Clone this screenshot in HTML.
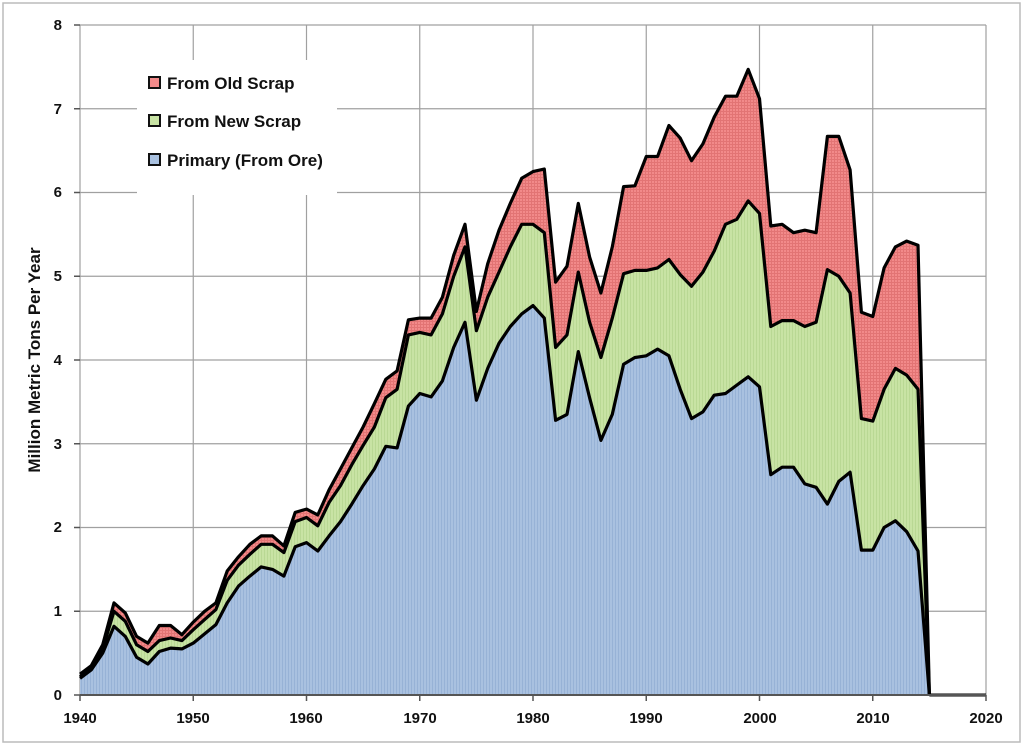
<!DOCTYPE html>
<html><head><meta charset="utf-8"><style>
body{margin:0;background:#fff;}
svg{display:block;font-family:"Liberation Sans",sans-serif;}
</style></head><body>
<svg id="s" width="1024" height="746" viewBox="0 0 1024 746">
<defs>
<pattern id="pb" width="3" height="10" patternUnits="userSpaceOnUse"><rect width="3" height="10" fill="#a9c1e0"/><rect width="1" height="10" fill="#97b2d6"/></pattern>
<pattern id="pg" width="3" height="3" patternUnits="userSpaceOnUse"><rect width="3" height="3" fill="#c8e3a4"/><rect width="1" height="3" fill="#b9d894"/></pattern>
<pattern id="pr" width="3" height="3" patternUnits="userSpaceOnUse"><rect width="3" height="3" fill="#f28a8a"/><rect width="1" height="3" fill="#e27474"/><rect width="3" height="1" fill="#e27474"/></pattern>
</defs>
<rect x="3" y="3" width="1017" height="739" fill="#fff" stroke="#bbb" stroke-width="1.5"/>
<g id="grid" stroke="#a0a0a0" stroke-width="1.2"></g>
<g id="areas"></g>
<line x1="80" y1="695" x2="986" y2="695" stroke="#555" stroke-width="2"/>
<g id="ticks" stroke="#555" stroke-width="1.5"></g>
<g font-size="15" font-weight="bold" fill="#111" text-anchor="end">
<text x="62" y="700">0</text><text x="62" y="616">1</text><text x="62" y="532">2</text><text x="62" y="449">3</text><text x="62" y="365">4</text><text x="62" y="281">5</text><text x="62" y="197">6</text><text x="62" y="114">7</text><text x="62" y="30">8</text>
</g>
<g font-size="15" font-weight="bold" fill="#111" text-anchor="middle">
<text x="80" y="723">1940</text><text x="193" y="723">1950</text><text x="306" y="723">1960</text><text x="420" y="723">1970</text><text x="533" y="723">1980</text><text x="646" y="723">1990</text><text x="760" y="723">2000</text><text x="873" y="723">2010</text><text x="986" y="723">2020</text>
</g>
<text transform="translate(40,360) rotate(-90)" font-size="17" font-weight="bold" fill="#111" text-anchor="middle">Million Metric Tons Per Year</text>
<rect x="137" y="60" width="200" height="135" fill="#fff"/>
<g font-size="17" font-weight="bold" fill="#111">
<rect x="149" y="77" width="11" height="11" fill="#f28a8a" stroke="#111" stroke-width="2"/><text x="167" y="89">From Old Scrap</text>
<rect x="149" y="115" width="11" height="11" fill="#c8e3a4" stroke="#111" stroke-width="2"/><text x="167" y="127">From New Scrap</text>
<rect x="149" y="154" width="11" height="11" fill="#a9c1e0" stroke="#111" stroke-width="2"/><text x="167" y="166">Primary (From Ore)</text>
</g>
</svg>
<script>
var P=[0.2,0.3,0.5,0.82,0.7,0.45,0.37,0.52,0.56,0.55,0.62,0.73,0.84,1.1,1.3,1.42,1.53,1.5,1.42,1.77,1.82,1.72,1.9,2.07,2.28,2.5,2.7,2.97,2.95,3.45,3.6,3.56,3.75,4.15,4.45,3.52,3.9,4.2,4.4,4.55,4.65,4.5,3.28,3.35,4.1,3.55,3.04,3.35,3.95,4.03,4.05,4.13,4.05,3.65,3.3,3.38,3.58,3.6,3.7,3.8,3.68,2.63,2.72,2.72,2.52,2.48,2.28,2.55,2.66,1.73,1.73,2.0,2.08,1.95,1.72,0];
var G=[0.22,0.32,0.55,1.0,0.88,0.6,0.52,0.65,0.68,0.65,0.78,0.9,1.02,1.37,1.55,1.68,1.8,1.8,1.7,2.07,2.12,2.02,2.3,2.5,2.75,2.98,3.2,3.55,3.65,4.3,4.33,4.3,4.55,5.0,5.35,4.35,4.75,5.05,5.35,5.62,5.62,5.52,4.15,4.3,5.05,4.45,4.03,4.5,5.03,5.07,5.07,5.1,5.2,5.02,4.88,5.05,5.3,5.62,5.68,5.9,5.75,4.4,4.47,4.47,4.4,4.45,5.08,5.0,4.8,3.3,3.27,3.65,3.9,3.82,3.65,0];
var T=[0.25,0.35,0.6,1.1,0.98,0.7,0.62,0.83,0.83,0.72,0.87,1.0,1.1,1.48,1.65,1.8,1.9,1.9,1.78,2.18,2.22,2.15,2.45,2.7,2.95,3.2,3.48,3.77,3.87,4.48,4.5,4.5,4.75,5.25,5.62,4.58,5.15,5.55,5.87,6.17,6.25,6.28,4.93,5.12,5.87,5.23,4.8,5.35,6.07,6.08,6.43,6.43,6.8,6.65,6.38,6.58,6.9,7.15,7.15,7.47,7.12,5.6,5.62,5.52,5.55,5.52,6.67,6.67,6.27,4.57,4.52,5.1,5.35,5.42,5.37,0];
function X(i){return 80+i*11.325}function Y(v){return 695-v*83.75}
var ns="http://www.w3.org/2000/svg";
function el(p,t,a){var e=document.createElementNS(ns,t);for(var k in a)e.setAttribute(k,a[k]);p.appendChild(e);return e}
var g=document.getElementById('grid');
for(var v=1;v<=8;v++)el(g,'line',{x1:80,x2:986,y1:Y(v),y2:Y(v)});
for(var y=0;y<=8;y++)el(g,'line',{x1:80+y*113.25,x2:80+y*113.25,y1:25,y2:695});
var tk=document.getElementById('ticks');
for(var v=0;v<=8;v++)el(tk,'line',{x1:74,x2:80,y1:Y(v),y2:Y(v)});
for(var y=0;y<=8;y++)el(tk,'line',{x1:80+y*113.25,x2:80+y*113.25,y1:695,y2:701});
function line(a){return a.map(function(v,i){return X(i).toFixed(1)+','+Y(v).toFixed(1)}).join(' L')}
function band(top,bot){var s='M'+line(top);for(var i=bot.length-1;i>=0;i--)s+=' L'+X(i).toFixed(1)+','+Y(bot[i]).toFixed(1);return s+'Z'}
var Z=P.map(function(){return 0});
var ar=document.getElementById('areas');
el(ar,'path',{d:band(T,G),fill:'url(#pr)'});
el(ar,'path',{d:band(G,P),fill:'url(#pg)'});
el(ar,'path',{d:band(P,Z),fill:'url(#pb)'});
[T,G,P].forEach(function(a){el(ar,'path',{d:'M'+line(a),fill:'none',stroke:'#000','stroke-width':3.2,'stroke-linejoin':'round'})});
el(ar,'line',{x1:X(75),x2:986,y1:695,y2:695,stroke:'#000','stroke-width':3});
</script>
</body></html>
